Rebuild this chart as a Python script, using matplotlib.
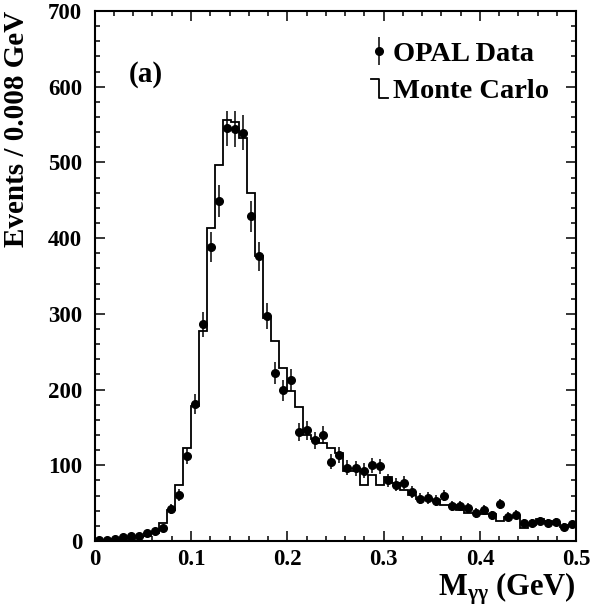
import numpy as np
import matplotlib
matplotlib.use("Agg")
import matplotlib.pyplot as plt
from matplotlib.lines import Line2D
from matplotlib.legend_handler import HandlerBase

# ---- data ----
bin_edges = np.linspace(0.0, 0.5, 61)
data_counts = [1, 1, 2, 5, 6, 7, 10, 13, 17, 42,
               61, 112, 181, 286, 388, 449, 545, 544, 539, 429,
               376, 297, 222, 199, 213, 144, 146, 133, 140, 105,
               114, 97, 96, 93, 100, 99, 80, 74, 77, 65,
               56, 57, 53, 60, 46, 46, 43, 37, 41, 34,
               49, 32, 35, 24, 24, 27, 24, 25, 19, 22]
mc_counts = [1, 1, 2, 3, 3, 5, 6, 10, 24, 41,
             74, 123, 178, 277, 413, 496, 556, 553, 532, 460,
             377, 294, 264, 229, 198, 177, 140, 135, 129, 123,
             116, 93, 93, 74, 87, 74, 84, 76, 67, 61,
             55, 55, 54, 47, 47, 41, 37, 37, 36, 36,
             27, 32, 32, 17, 21, 29, 26, 23, 18, 21]
x_ticks = [0, 0.1, 0.2, 0.3, 0.4, 0.5]
x_tick_labels = ["0", "0.1", "0.2", "0.3", "0.4", "0.5"]
y_ticks = [0, 100, 200, 300, 400, 500, 600, 700]

plt.rcParams['font.family'] = ['Liberation Serif', 'DejaVu Serif']
plt.rcParams['font.weight'] = 'bold'
plt.rcParams['mathtext.fontset'] = 'custom'
plt.rcParams['mathtext.rm'] = 'Liberation Serif:bold'
plt.rcParams['mathtext.it'] = 'Liberation Serif:bold'
plt.rcParams['mathtext.bf'] = 'Liberation Serif:bold'

fig = plt.figure(figsize=(5.92, 6.12), dpi=100)
ax = fig.add_axes([94.7/592, 1 - 541/612, (576.2-94.7)/592, (541-11)/612])

centers = 0.5 * (bin_edges[:-1] + bin_edges[1:])
data = np.array(data_counts, dtype=float)
err = np.sqrt(data)

mc_line = ax.stairs(mc_counts, bin_edges, color='black', lw=1.3)
eb = ax.errorbar(centers, data, yerr=err, fmt='o', color='black',
                 markersize=5.5, elinewidth=1.1, capsize=0)

ax.set_xlim(0, 0.5)
ax.set_ylim(0, 700)
ax.set_xticks(x_ticks)
ax.set_xticklabels(x_tick_labels)
ax.set_yticks(y_ticks)
ax.set_xticks(np.arange(0, 0.5001, 0.02), minor=True)
ax.set_yticks(np.arange(0, 701, 20), minor=True)
ax.tick_params(which='both', direction='in', top=True, right=True,
               labelsize=16.5, width=1.1)
ax.tick_params(which='major', length=7.5)
ax.tick_params(which='minor', length=3.8)
ax.tick_params(axis='y', pad=9)
ax.tick_params(axis='x', pad=6)
for lab in ax.get_xticklabels() + ax.get_yticklabels():
    lab.set_fontweight('bold')
for s in ax.spines.values():
    s.set_linewidth(1.5)

ax.set_ylabel("Events / 0.008 GeV", fontsize=21, fontweight='bold', loc='top')
ax.yaxis.set_label_coords(-0.134, 1.0)
ax.set_xlabel(r"M$_{\gamma\gamma}$ (GeV)", fontsize=22, fontweight='bold', loc='right')
ax.xaxis.set_label_coords(1.0, -0.055)

ax.text(0.07, 0.88, "(a)", transform=ax.transAxes, fontsize=21, fontweight='bold',
        ha='left', va='center')


class StepHandler(HandlerBase):
    def create_artists(self, legend, orig_handle, xdescent, ydescent,
                       width, height, fontsize, trans):
        x0 = -xdescent
        xs = [x0 + 0.1 * width, x0 + 0.5 * width, x0 + 0.5 * width, x0 + 0.95 * width]
        ys = [height * 0.95 - ydescent, height * 0.95 - ydescent, -ydescent, -ydescent]
        ln = Line2D(xs, ys, color='black', lw=1.3, transform=trans)
        return [ln]


step_handle = Line2D([], [], color='black')
leg = ax.legend([eb, step_handle], ["OPAL Data", "Monte Carlo"],
                handler_map={step_handle: StepHandler()},
                loc='upper right', bbox_to_anchor=((549 - 94.7) / 481.5, (541 - 41) / 530),
                frameon=False, prop={'family': 'Liberation Serif', 'weight': 'bold', 'size': 20.5},
                handlelength=0.7, handletextpad=0.15, labelspacing=0.4,
                borderpad=0, borderaxespad=0)

fig.savefig("out.png", dpi=100)
